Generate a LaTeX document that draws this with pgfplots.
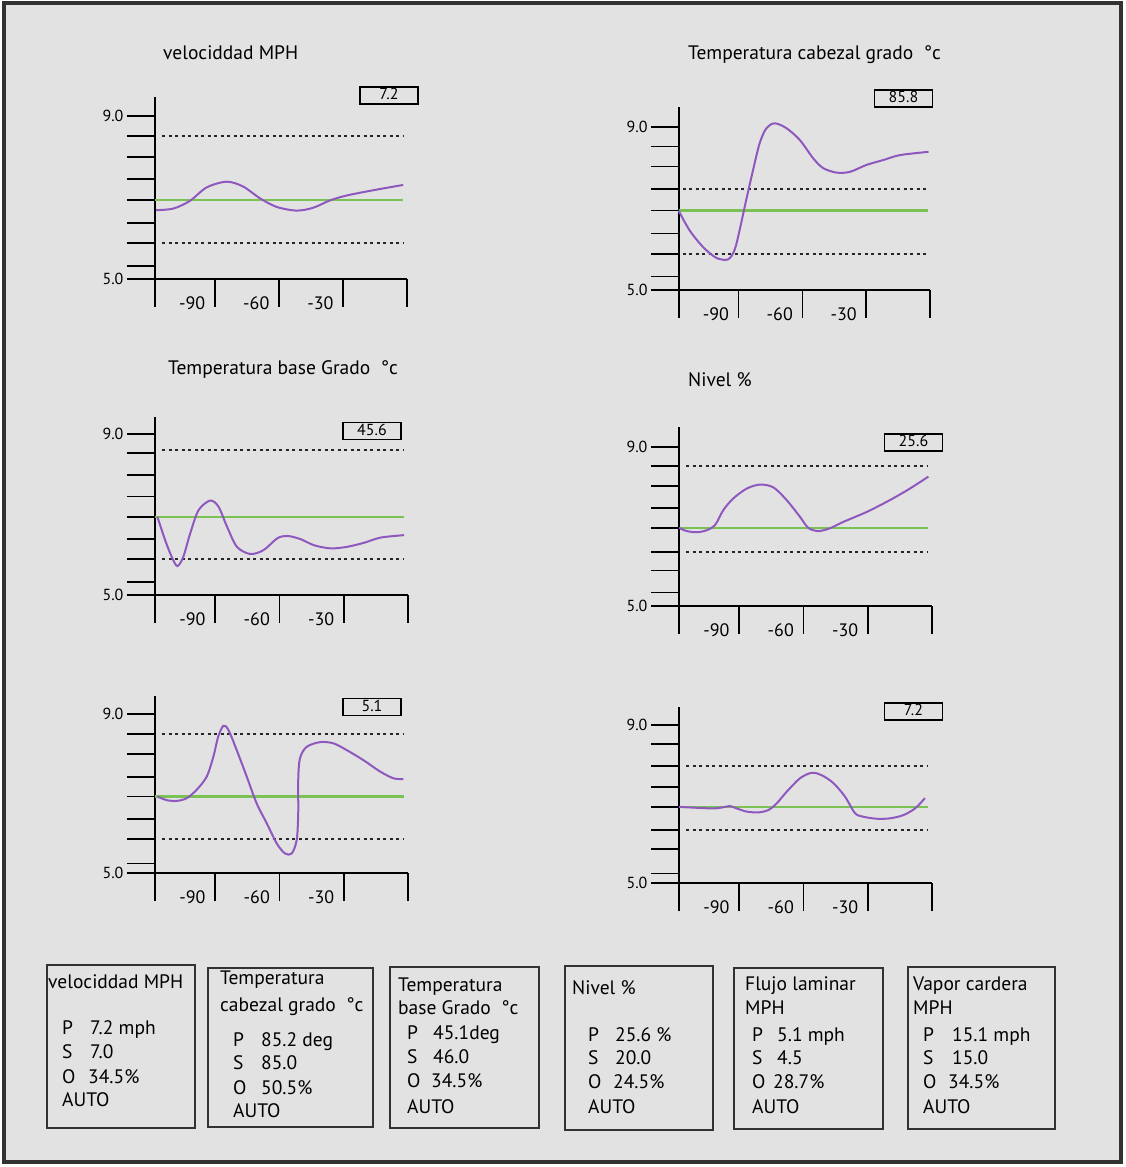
\documentclass[border=0pt]{standalone}
\usepackage{fontspec}
\setmainfont{PT Sans}
\usepackage{pgfplots}
\pgfplotsset{compat=1.18}

\definecolor{bg}{RGB}{226,226,226}
\definecolor{frm}{RGB}{50,50,50}
\definecolor{pv}{RGB}{143,88,190}
\definecolor{sp}{RGB}{122,194,84}

\pgfplotsset{
  hmi/.style={
    scale only axis, clip=false,
    axis x line=bottom, axis y line=left,
    axis line style={-, line width=1.7pt, black},
    every tick/.style={line width=1.7pt, black},
    tick align=outside, major tick length=28pt,
    xmin=-118, xmax=0, ymin=5,
    xtick={-118,-90,-60,-30,0}, xticklabels={,-90,-60,-30,},
    yticklabels={5.0,,,,,,,,9.0},
    x tick label style={font=\fontsize{18}{20}\selectfont, anchor=north east, xshift=-6pt, yshift=14pt},
    y tick label style={font=\fontsize{16}{18}\selectfont},
  },
  lim/.style={black!85, line width=2pt, dash pattern=on 3pt off 3.5pt},
  set/.style={sp, line width=2.2pt},
  pvl/.style={pv, line width=2pt, smooth},
}

\begin{document}
\begin{tikzpicture}
\begin{scope}[x=1pt,y=-1pt]
  \fill[white] (0,0) rectangle (1125,1167);
  \draw[frm, line width=4pt, fill=bg] (4,3) rectangle (1121,1162);
\end{scope}

% velociddad MPH
\begin{axis}[hmi, at={(155pt,-279pt)}, anchor=south west, width=252pt, height=182pt,
  ymax=9.47, ytick={5,5.32,5.89,6.38,6.94,7.46,8.0,8.51,9}]
\addplot[lim] coordinates {(-114.7,8.51)(-2,8.51)};
\addplot[lim] coordinates {(-114.7,5.89)(-2,5.89)};
\addplot[set] coordinates {(-118,6.94)(-2,6.94)};
\addplot[pvl] coordinates {
  (-117.5,6.69)(-109.4,6.73)(-101.6,6.92)(-93.8,7.25)(-84.4,7.39)(-76.7,7.27)
  (-68.8,6.98)(-61.0,6.77)(-51.7,6.68)(-43.9,6.75)(-36.1,6.93)(-28.3,7.05)
  (-15.8,7.18)(-1.8,7.31)};
\end{axis}

% Temperatura cabezal
\begin{axis}[hmi, at={(679pt,-290pt)}, anchor=south west, width=251pt, height=183pt,
  ymax=9.49, ytick={5,5.33,5.88,6.39,6.95,7.47,8.03,8.52,9}]
\addplot[lim] coordinates {(-116.3,7.47)(-0.8,7.47)};
\addplot[lim] coordinates {(-116.3,5.88)(-0.8,5.88)};
\addplot[set] coordinates {(-118,6.95)(-0.8,6.95)};
\addplot[pvl] coordinates {
  (-118.2,6.95)(-113.1,6.47)(-106.8,6.06)(-100.5,5.79)(-95.0,5.75)(-91.9,5.98)
  (-89.5,6.47)(-86.4,7.21)(-83.2,7.94)(-80.1,8.60)(-76.9,8.97)(-73.0,9.09)
  (-67.5,8.97)(-61.2,8.68)(-54.9,8.23)(-50.2,7.99)(-43.9,7.88)(-37.6,7.90)
  (-29.8,8.07)(-21.9,8.19)(-14.1,8.31)(-0.7,8.39)};
\end{axis}

% Temperatura base
\begin{axis}[hmi, at={(155pt,-595pt)}, anchor=south west, width=253pt, height=178pt,
  ymax=9.43, ytick={5,5.33,5.89,6.39,6.95,7.45,7.99,8.53,9}]
\addplot[lim] coordinates {(-114.7,8.62)(-2,8.62)};
\addplot[lim] coordinates {(-114.7,5.89)(-2,5.89)};
\addplot[set] coordinates {(-118,6.95)(-2,6.95)};
\addplot[pvl] coordinates {
  (-116.9,6.95)(-113.3,6.37)(-110.2,5.95)(-107.6,5.72)(-104.8,5.95)(-101.6,6.53)
  (-97.7,7.11)(-92.3,7.35)(-88.4,7.20)(-84.4,6.70)(-79.8,6.20)(-73.5,6.02)
  (-67.3,6.12)(-61.0,6.41)(-56.3,6.47)(-50.1,6.39)(-43.9,6.24)(-36.1,6.16)
  (-28.3,6.20)(-20.5,6.30)(-12.7,6.43)(-1.8,6.49)};
\end{axis}

% Nivel
\begin{axis}[hmi, at={(679pt,-605.7pt)}, anchor=south west, width=253pt, height=178.7pt,
  ymax=9.50, ytick={5,5.33,5.89,6.36,6.95,7.46,8.01,8.52,9}]
\addplot[lim] coordinates {(-114.7,8.52)(-2,8.52)};
\addplot[lim] coordinates {(-114.7,6.36)(-2,6.36)};
\addplot[set] coordinates {(-118,6.95)(-2,6.95)};
\addplot[pvl] coordinates {
  (-118,6.96)(-114.4,6.88)(-109.7,6.85)(-105.1,6.90)(-101.2,7.03)(-97.3,7.41)
  (-92.7,7.70)(-86.4,7.95)(-80.2,8.05)(-74.0,7.98)(-67.8,7.66)(-61.6,7.24)
  (-57.7,6.96)(-53.0,6.88)(-47.6,6.95)(-41.4,7.11)(-30.5,7.36)(-19.6,7.66)
  (-10.3,7.95)(-1.7,8.25)};
\end{axis}

% Flujo laminar
\begin{axis}[hmi, at={(155pt,-873.3pt)}, anchor=south west, width=253pt, height=177.3pt,
  ymax=9.46, ytick={5,5.25,5.86,6.36,6.93,7.43,8.0,8.5,9}]
\addplot[lim] coordinates {(-114.7,8.5)(-2,8.5)};
\addplot[lim] coordinates {(-114.7,5.86)(-2,5.86)};
\addplot[set] coordinates {(-118,6.93)(-2,6.93)};
\addplot[pvl] coordinates {
  (-116.9,6.93)(-112.5,6.84)(-107.9,6.82)(-103.2,6.89)(-98.6,7.10)(-93.9,7.43)
  (-90.8,7.93)(-88.5,8.44)(-86.1,8.71)(-83.8,8.61)(-79.9,8.10)(-75.2,7.43)
  (-70.6,6.76)(-65.9,6.26)(-61.2,5.75)(-57.4,5.50)(-54.2,5.50)(-51.9,5.84)
  (-51.2,6.51)(-51.2,7.35)(-50.4,7.89)(-47.3,8.18)(-41.0,8.30)(-34.8,8.27)
  (-28.6,8.10)(-20.9,7.85)(-13.0,7.56)(-6.8,7.39)(-2.2,7.37)};
\end{axis}

% Vapor cardera
\begin{axis}[hmi, at={(679pt,-883.3pt)}, anchor=south west, width=253pt, height=176.3pt,
  ymax=9.45, ytick={5,5.25,5.86,6.35,6.92,7.43,7.96,8.52,9}]
\addplot[lim] coordinates {(-114.7,7.96)(-2,7.96)};
\addplot[lim] coordinates {(-114.7,6.35)(-2,6.35)};
\addplot[set] coordinates {(-118,6.92)(-2,6.92)};
\addplot[pvl] coordinates {
  (-118,6.93)(-111.3,6.91)(-102.0,6.89)(-97.3,6.92)(-94.2,6.95)(-91.1,6.89)
  (-86.4,6.81)(-81.0,6.79)(-76.3,6.85)(-72.4,7.02)(-67.8,7.31)(-61.6,7.65)
  (-56.1,7.79)(-51.5,7.73)(-46.0,7.53)(-40.6,7.19)(-35.9,6.77)(-32.0,6.68)
  (-25.8,6.63)(-19.6,6.64)(-13.4,6.72)(-7.9,6.89)(-3.3,7.15)};
\end{axis}

\begin{scope}[x=1pt,y=-1pt, every node/.style={inner sep=0pt, font=\fontsize{19.5}{21}\selectfont}]
  % chart titles
  \node[anchor=west] at (163,53) {velociddad MPH};
  \node[anchor=west] at (688,55) {Temperatura cabezal grado\ \ °c};
  \node[anchor=west] at (168,370) {Temperatura base Grado\ \ °c};
  \node[anchor=west] at (688,380) {Nivel \%};
  % value boxes
  \begin{scope}[every node/.style={draw=black, line width=1.6pt, minimum width=58pt,
      minimum height=17pt, inner sep=0pt}]
    \node at (389,95.5) {\fontsize{16}{16}\selectfont\raisebox{2.5pt}{7.2}};
    \node at (903.5,98.5) {\fontsize{16}{16}\selectfont\raisebox{2.5pt}{85.8}};
    \node at (372,431) {\fontsize{16}{16}\selectfont\raisebox{2.5pt}{45.6}};
    \node at (913.5,442.5) {\fontsize{16}{16}\selectfont\raisebox{2.5pt}{25.6}};
    \node at (372,707) {\fontsize{16}{16}\selectfont\raisebox{2.5pt}{5.1}};
    \node at (913.5,711.5) {\fontsize{16}{16}\selectfont\raisebox{2.5pt}{7.2}};
  \end{scope}
  % faceplates
  \begin{scope}[frm, line width=2pt]
    \draw (47,965) rectangle (195,1128);
    \draw (208,968) rectangle (373,1127);
    \draw (390,967) rectangle (539,1128);
    \draw (565,966) rectangle (713,1130);
    \draw (734,968) rectangle (883,1129);
    \draw (908,967) rectangle (1055,1129);
  \end{scope}
  \begin{scope}[every node/.append style={anchor=base west}]
    \node at (48,988) {velociddad MPH};
    \node at (62,1034) {P}; \node at (90,1034) {7.2 mph};
    \node at (62,1058) {S}; \node at (90,1058) {7.0};
    \node at (62,1083) {O}; \node at (88,1083) {34.5\%};
    \node at (62,1106) {AUTO};

    \node at (220,984) {Temperatura};
    \node at (220,1011) {cabezal grado\ \ °c};
    \node at (233,1046) {P}; \node at (261,1046) {85.2 deg};
    \node at (233,1069) {S}; \node at (261,1069) {85.0};
    \node at (233,1094) {O}; \node at (261,1094) {50.5\%};
    \node at (233,1117) {AUTO};

    \node at (398,991) {Temperatura};
    \node at (398,1014) {base Grado\ \ °c};
    \node at (407,1039) {P}; \node at (433,1039) {45.1deg};
    \node at (407,1063) {S}; \node at (433,1063) {46.0};
    \node at (407,1087) {O}; \node at (431,1087) {34.5\%};
    \node at (407,1113) {AUTO};

    \node at (572,994) {Nivel \%};
    \node at (588,1041) {P}; \node at (615,1041) {25.6 \%};
    \node at (588,1064) {S}; \node at (615,1064) {20.0};
    \node at (588,1088) {O}; \node at (613,1088) {24.5\%};
    \node at (588,1113) {AUTO};

    \node at (745,990) {Flujo laminar};
    \node at (745,1014) {MPH};
    \node at (752,1041) {P}; \node at (777,1041) {5.1 mph};
    \node at (752,1064) {S}; \node at (777,1064) {4.5};
    \node at (752,1088) {O}; \node at (773,1088) {28.7\%};
    \node at (752,1113) {AUTO};

    \node at (913,990) {Vapor cardera};
    \node at (913,1014) {MPH};
    \node at (923,1041) {P}; \node at (952,1041) {15.1 mph};
    \node at (923,1064) {S}; \node at (952,1064) {15.0};
    \node at (923,1088) {O}; \node at (948,1088) {34.5\%};
    \node at (923,1113) {AUTO};
  \end{scope}
\end{scope}
\end{tikzpicture}
\end{document}
